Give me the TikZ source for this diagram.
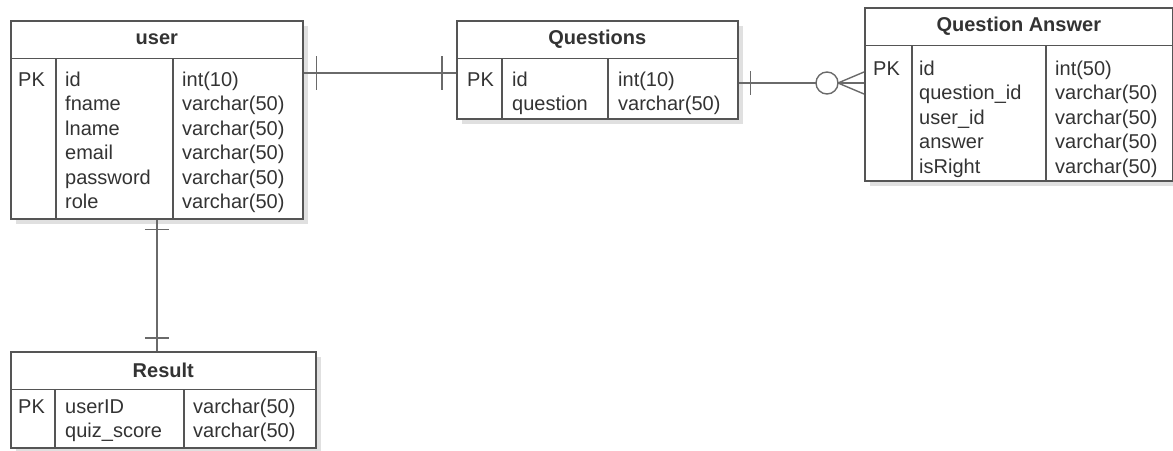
\documentclass[tikz,border=0pt]{standalone}
\usepackage{fontspec}
\setmainfont{Liberation Sans}
\usetikzlibrary{positioning,calc,shadows}
\definecolor{linegray}{HTML}{555555}
\definecolor{linklight}{HTML}{6A6A6A}
\definecolor{textgray}{HTML}{333333}
\newcommand\erfont{\fontsize{20}{24.5}\selectfont}
\tikzset{
    % Table styles
    tbl/.style={rectangle, draw=linegray, line width=1.6pt, fill=white, anchor=north west,
                inner sep=0pt, drop shadow={shadow xshift=5pt, shadow yshift=-5pt, fill=black, opacity=0.12}},
    tbl title/.style={anchor=north, minimum height=38pt, inner sep=0pt, font=\erfont\bfseries, text=textgray},
    col/.style={anchor=base west, inner sep=0pt, align=left, text=textgray},
    grid/.style={draw=linegray, line width=1.6pt},
    % Relation styles
    link/.style={draw=linklight, line width=1.4pt},
}

\begin{document}
\begin{tikzpicture}[x=1pt, y=-1pt, font=\erfont]
    \useasboundingbox (0,0) rectangle (1173,450);

    % user
    \node[tbl, minimum width=292pt, minimum height=198pt] (user) at (10,20) {};
    \node[tbl title] (user title) at (user.north) {user};
    \draw[grid] (user.west |- user title.south) -- (user.east |- user title.south);
    \draw[grid] ($(user.south west)+(46,0)$) -- ($(user.south west |- user title.south)+(46,0)$);
    \draw[grid] ($(user.south west)+(163,0)$) -- ($(user.south west |- user title.south)+(163,0)$);
    % base of a column node is the baseline of its last row
    \node[col] (user pk) at (18,86) {PK};
    \node[col] (user names) at (65,208.5) {id\\fname\\lname\\email\\password\\role};
    \node[col] (user types) at (182,208.5) {int(10)\\varchar(50)\\varchar(50)\\varchar(50)\\varchar(50)\\varchar(50)};

    % Questions
    \node[tbl, minimum width=281pt, minimum height=98pt] (questions) at (456,20) {};
    \node[tbl title] (questions title) at (questions.north) {Questions};
    \draw[grid] (questions.west |- questions title.south) -- (questions.east |- questions title.south);
    \draw[grid] ($(questions.south west)+(46,0)$) -- ($(questions.south west |- questions title.south)+(46,0)$);
    \draw[grid] ($(questions.south west)+(152,0)$) -- ($(questions.south west |- questions title.south)+(152,0)$);
    \node[col] (questions pk) at (467,86) {PK};
    \node[col] (questions names) at (512,110.5) {id\\question};
    \node[col] (questions types) at (618,110.5) {int(10)\\varchar(50)};

    % Question Answer
    \node[tbl, minimum width=308pt, minimum height=173pt] (qanswer) at (864,7) {};
    \node[tbl title] (qanswer title) at (qanswer.north) {Question Answer};
    \draw[grid] (qanswer.west |- qanswer title.south) -- (qanswer.east |- qanswer title.south);
    \draw[grid] ($(qanswer.south west)+(48,0)$) -- ($(qanswer.south west |- qanswer title.south)+(48,0)$);
    \draw[grid] ($(qanswer.south west)+(182,0)$) -- ($(qanswer.south west |- qanswer title.south)+(182,0)$);
    \node[col] (qanswer pk) at (873,75) {PK};
    \node[col] (qanswer names) at (919,173) {id\\question\_id\\user\_id\\answer\\isRight};
    \node[col] (qanswer types) at (1055,173) {int(50)\\varchar(50)\\varchar(50)\\varchar(50)\\varchar(50)};

    % Result
    \node[tbl, minimum width=305pt, minimum height=96pt] (result) at (10,351) {};
    \node[tbl title] (result title) at (result.north) {Result};
    \draw[grid] (result.west |- result title.south) -- (result.east |- result title.south);
    \draw[grid] ($(result.south west)+(45,0)$) -- ($(result.south west |- result title.south)+(45,0)$);
    \draw[grid] ($(result.south west)+(174,0)$) -- ($(result.south west |- result title.south)+(174,0)$);
    \node[col] (result pk) at (18,413) {PK};
    \node[col] (result names) at (65,437.5) {userID\\quiz\_score};
    \node[col] (result types) at (193,437.5) {varchar(50)\\varchar(50)};

    % user -- Questions (one to one)
    \coordinate (lnk uq) at (380,73);
    \draw[link] (user.east |- lnk uq) -- (questions.west |- lnk uq);
    \draw[link] ($(user.east |- lnk uq)+(13,-17)$) -- ++(0,34);
    \draw[link] ($(questions.west |- lnk uq)+(-14,-17)$) -- ++(0,34);

    % Questions -- Question Answer (one to zero or many)
    \coordinate (lnk qa) at (800,83);
    \draw[link] (questions.east |- lnk qa) -- ($(qanswer.west |- lnk qa)+(-48,0)$);
    \draw[link] ($(questions.east |- lnk qa)+(12,-12)$) -- ++(0,24);
    \draw[link] ($(qanswer.west |- lnk qa)+(-37,0)$) circle (11);
    \draw[link] ($(qanswer.west |- lnk qa)+(-26,0)$) -- (qanswer.west |- lnk qa);
    \draw[link] ($(qanswer.west |- lnk qa)+(-26,0)$) -- ++(26,-11);
    \draw[link] ($(qanswer.west |- lnk qa)+(-26,0)$) -- ++(26,11);

    % user -- Result (one to one)
    \draw[link] (user.south) -- (user.south |- result.north);
    \draw[link] ($(user.south)+(-12,10)$) -- ++(24,0);
    \draw[link] ($(user.south |- result.north)+(-12,-13)$) -- ++(24,0);
\end{tikzpicture}
\end{document}
